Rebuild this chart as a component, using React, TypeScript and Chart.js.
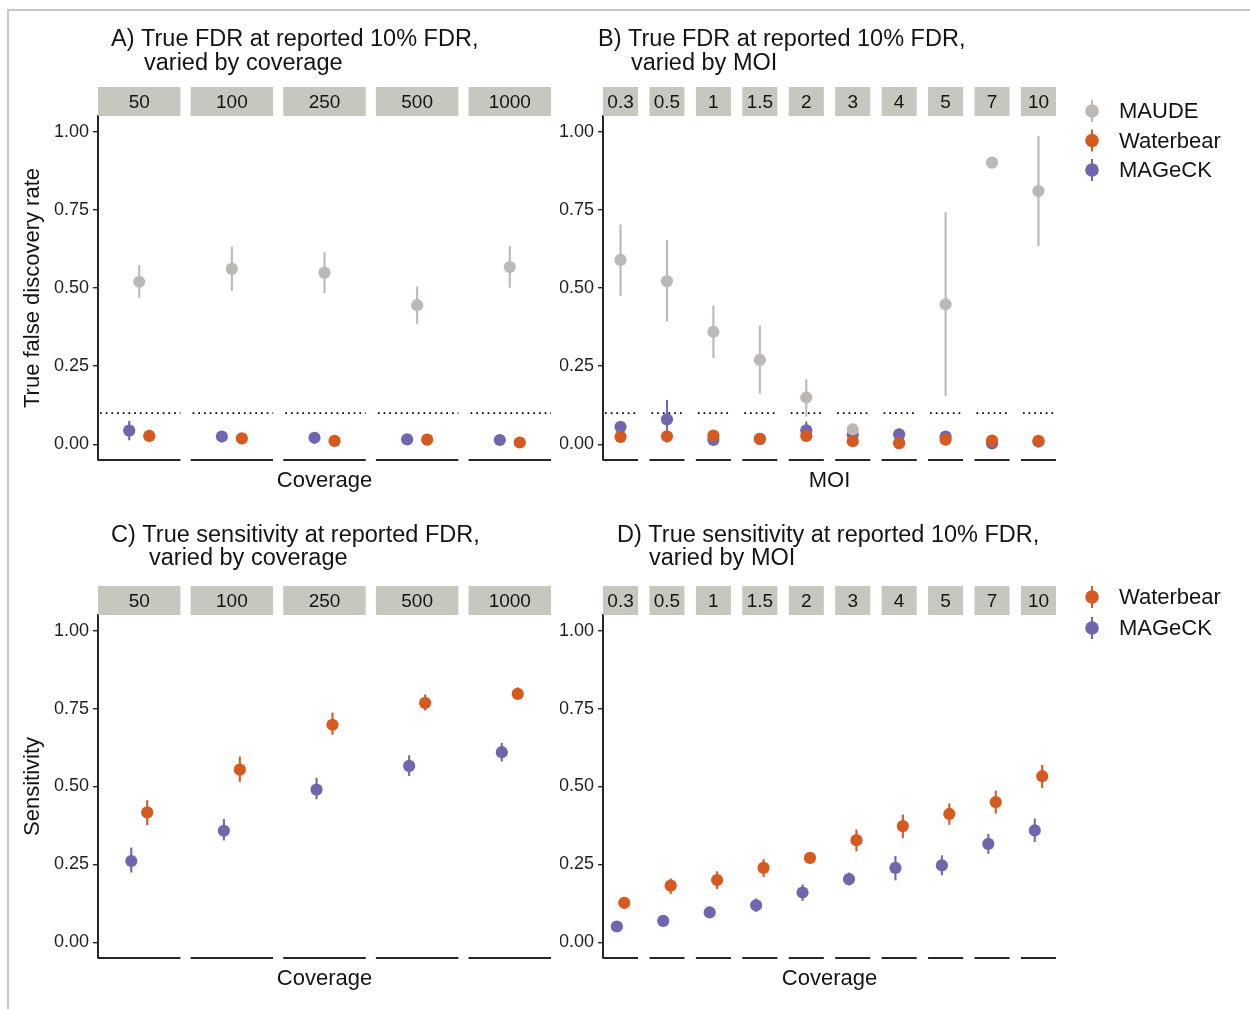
import React, { useEffect, useRef } from 'react';
import { Chart, registerables } from 'chart.js';

Chart.register(...registerables);

// ---------------- data ----------------
const coverageLevels = ['50', '100', '250', '500', '1000'];
const moiLevels = ['0.3', '0.5', '1', '1.5', '2', '3', '4', '5', '7', '10'];
const yTickValues = [0, 0.25, 0.5, 0.75, 1];
const reportedFdr = 0.1;

// A) FDR by coverage
const maudeFdrCov = [0.520, 0.561, 0.549, 0.445, 0.567];
const maudeFdrCovLo = [0.469, 0.491, 0.483, 0.385, 0.501];
const maudeFdrCovHi = [0.574, 0.632, 0.614, 0.505, 0.634];
const waterFdrCov = [0.027, 0.019, 0.011, 0.015, 0.006];
const waterFdrCovLo = [0.019, 0.012, 0.005, 0.008, 0.001];
const waterFdrCovHi = [0.035, 0.026, 0.017, 0.022, 0.011];
const mageckFdrCov = [0.044, 0.025, 0.021, 0.016, 0.014];
const mageckFdrCovLo = [0.013, 0.015, 0.012, 0.008, 0.007];
const mageckFdrCovHi = [0.075, 0.035, 0.030, 0.024, 0.021];

// B) FDR by MOI
const maudeFdrMoi = [0.590, 0.522, 0.360, 0.270, 0.150, 0.048, 0.003, 0.448, 0.901, 0.810];
const maudeFdrMoiLo = [0.475, 0.393, 0.276, 0.162, 0.089, 0.029, 0.000, 0.155, 0.901, 0.634];
const maudeFdrMoiHi = [0.703, 0.653, 0.444, 0.380, 0.208, 0.067, 0.010, 0.743, 0.901, 0.986];
const waterFdrMoi = [0.024, 0.026, 0.028, 0.018, 0.027, 0.010, 0.004, 0.015, 0.012, 0.011];
const waterFdrMoiLo = [0.016, 0.006, 0.019, 0.011, 0.019, 0.004, 0.000, 0.008, 0.006, 0.005];
const waterFdrMoiHi = [0.032, 0.044, 0.037, 0.025, 0.035, 0.016, 0.009, 0.022, 0.018, 0.017];
const mageckFdrMoi = [0.056, 0.080, 0.014, 0.017, 0.045, 0.030, 0.032, 0.025, 0.003, 0.009];
const mageckFdrMoiLo = [0.045, 0.020, 0.006, 0.009, 0.020, 0.018, 0.015, 0.016, 0.000, 0.003];
const mageckFdrMoiHi = [0.067, 0.142, 0.022, 0.025, 0.073, 0.042, 0.051, 0.034, 0.008, 0.015];

// C) Sensitivity by coverage
const waterSensCov = [0.417, 0.554, 0.698, 0.768, 0.797];
const waterSensCovLo = [0.376, 0.515, 0.666, 0.744, 0.781];
const waterSensCovHi = [0.456, 0.596, 0.737, 0.795, 0.818];
const mageckSensCov = [0.261, 0.358, 0.490, 0.566, 0.610];
const mageckSensCovLo = [0.224, 0.327, 0.459, 0.534, 0.580];
const mageckSensCovHi = [0.304, 0.396, 0.528, 0.600, 0.640];

// D) Sensitivity by MOI
const waterSensMoi = [0.127, 0.182, 0.200, 0.239, 0.271, 0.328, 0.373, 0.412, 0.450, 0.533];
const waterSensMoiLo = [0.112, 0.155, 0.171, 0.210, 0.255, 0.292, 0.335, 0.377, 0.413, 0.495];
const waterSensMoiHi = [0.139, 0.205, 0.228, 0.267, 0.286, 0.362, 0.410, 0.446, 0.487, 0.569];
const mageckSensMoi = [0.051, 0.069, 0.096, 0.119, 0.160, 0.203, 0.239, 0.247, 0.316, 0.359];
const mageckSensMoiLo = [0.045, 0.062, 0.089, 0.098, 0.133, 0.183, 0.199, 0.215, 0.284, 0.322];
const mageckSensMoiHi = [0.057, 0.076, 0.103, 0.141, 0.186, 0.224, 0.277, 0.279, 0.348, 0.397];

// ---------------- style ----------------
const FONT = '"Liberation Sans", Arial, Helvetica, sans-serif';
const COLORS: Record<string, string> = {
  MAUDE: '#bcb8b5',
  Waterbear: '#d65a20',
  MAGeCK: '#7066ae',
};
const STRIP_FILL = '#c7c7bf';
const AXIS_COL = '#262626';
const TEXT_COL = '#141414';

type Series = { name: string; y: number[]; lo: number[]; hi: number[]; dodge: number };
type PanelCfg = {
  left: number; top: number; width: number; height: number;
  area: { l: number; r: number; t: number; b: number };
  facets: string[]; gapFrac: number; series: Series[]; dotted: boolean;
  title: { text: string; x: number; y: number }[];
  xTitle: string; yTitle?: string;
  legend?: { names: string[]; x: number; y: number; step: number };
};

const panels: PanelCfg[] = [
  {
    left: 0, top: 0, width: 560, height: 500,
    area: { l: 98, r: 551, t: 116, b: 460 },
    facets: coverageLevels, gapFrac: 0.11, dotted: true,
    series: [
      { name: 'Waterbear', y: waterFdrCov, lo: waterFdrCovLo, hi: waterFdrCovHi, dodge: 0.108 },
      { name: 'MAUDE', y: maudeFdrCov, lo: maudeFdrCovLo, hi: maudeFdrCovHi, dodge: 0 },
      { name: 'MAGeCK', y: mageckFdrCov, lo: mageckFdrCovLo, hi: mageckFdrCovHi, dodge: -0.108 },
    ],
    title: [
      { text: 'A) True FDR at reported 10% FDR,', x: 111, y: 40 },
      { text: 'varied by coverage', x: 144, y: 64 },
    ],
    xTitle: 'Coverage', yTitle: 'True false discovery rate',
  },
  {
    left: 560, top: 0, width: 690, height: 500,
    area: { l: 603, r: 1056, t: 116, b: 460 },
    facets: moiLevels, gapFrac: 0.245, dotted: true,
    series: [
      { name: 'Waterbear', y: waterFdrMoi, lo: waterFdrMoiLo, hi: waterFdrMoiHi, dodge: 0 },
      { name: 'MAUDE', y: maudeFdrMoi, lo: maudeFdrMoiLo, hi: maudeFdrMoiHi, dodge: 0 },
      { name: 'MAGeCK', y: mageckFdrMoi, lo: mageckFdrMoiLo, hi: mageckFdrMoiHi, dodge: 0 },
    ],
    title: [
      { text: 'B) True FDR at reported 10% FDR,', x: 598, y: 40 },
      { text: 'varied by MOI', x: 631, y: 64 },
    ],
    xTitle: 'MOI',
    legend: { names: ['MAUDE', 'Waterbear', 'MAGeCK'], x: 1092, y: 111, step: 29.5 },
  },
  {
    left: 0, top: 500, width: 560, height: 509,
    area: { l: 98, r: 551, t: 615, b: 958 },
    facets: coverageLevels, gapFrac: 0.11, dotted: false,
    series: [
      { name: 'Waterbear', y: waterSensCov, lo: waterSensCovLo, hi: waterSensCovHi, dodge: 0.086 },
      { name: 'MAGeCK', y: mageckSensCov, lo: mageckSensCovLo, hi: mageckSensCovHi, dodge: -0.086 },
    ],
    title: [
      { text: 'C) True sensitivity at reported FDR,', x: 111, y: 536 },
      { text: 'varied by coverage', x: 149, y: 559 },
    ],
    xTitle: 'Coverage', yTitle: 'Sensitivity',
  },
  {
    left: 560, top: 500, width: 690, height: 509,
    area: { l: 603, r: 1056, t: 615, b: 958 },
    facets: moiLevels, gapFrac: 0.245, dotted: false,
    series: [
      { name: 'Waterbear', y: waterSensMoi, lo: waterSensMoiLo, hi: waterSensMoiHi, dodge: 0.08 },
      { name: 'MAGeCK', y: mageckSensMoi, lo: mageckSensMoiLo, hi: mageckSensMoiHi, dodge: -0.08 },
    ],
    title: [
      { text: 'D) True sensitivity at reported 10% FDR,', x: 617, y: 536 },
      { text: 'varied by MOI', x: 649, y: 559 },
    ],
    xTitle: 'Coverage',
    legend: { names: ['Waterbear', 'MAGeCK'], x: 1092, y: 597, step: 31 },
  },
];

function Panel({ cfg }: { cfg: PanelCfg }) {
  const ref = useRef<HTMLCanvasElement | null>(null);

  useEffect(() => {
    const canvas = ref.current;
    if (!canvas) return;
    const n = cfg.facets.length;
    const hw = 0.5 - cfg.gapFrac / 2;
    const xMin = -hw;
    const xMax = n - 1 + hw;

    const plugin = {
      id: 'facetDecor',
      beforeDatasetsDraw(chart: any) {
        const ctx = chart.ctx as CanvasRenderingContext2D;
        const xs = chart.scales.x;
        const ys = chart.scales.y;
        const ca = chart.chartArea;
        ctx.save();
        for (let i = 0; i < n; i++) {
          const x0 = xs.getPixelForValue(i - hw);
          const x1 = xs.getPixelForValue(i + hw);
          // strip
          ctx.fillStyle = STRIP_FILL;
          ctx.fillRect(x0, ca.top - 29, x1 - x0, 29);
          ctx.fillStyle = TEXT_COL;
          ctx.font = `19px ${FONT}`;
          ctx.textAlign = 'center';
          ctx.textBaseline = 'middle';
          ctx.fillText(cfg.facets[i], (x0 + x1) / 2, ca.top - 13.5);
          // bottom axis segment
          ctx.strokeStyle = AXIS_COL;
          ctx.lineWidth = 2;
          ctx.beginPath();
          ctx.moveTo(x0, ca.bottom);
          ctx.lineTo(x1, ca.bottom);
          ctx.stroke();
          // dotted reference line
          if (cfg.dotted) {
            const yy = ys.getPixelForValue(reportedFdr);
            ctx.strokeStyle = '#000';
            ctx.lineWidth = 1.7;
            ctx.setLineDash([1.7, 4]);
            ctx.beginPath();
            ctx.moveTo(x0 + 2, yy);
            ctx.lineTo(x1, yy);
            ctx.stroke();
            ctx.setLineDash([]);
          }
        }
        ctx.restore();
      },
      beforeDatasetDraw(chart: any, args: any) {
        const s = cfg.series[args.index];
        if (!s) return;
        const ctx = chart.ctx as CanvasRenderingContext2D;
        const xs = chart.scales.x;
        const ys = chart.scales.y;
        ctx.save();
        ctx.strokeStyle = COLORS[s.name];
        ctx.lineWidth = 2.1;
        for (let i = 0; i < s.y.length; i++) {
          const x = xs.getPixelForValue(i + s.dodge);
          ctx.beginPath();
          ctx.moveTo(x, ys.getPixelForValue(s.lo[i]));
          ctx.lineTo(x, ys.getPixelForValue(s.hi[i]));
          ctx.stroke();
        }
        ctx.restore();
      },
      afterDraw(chart: any) {
        const ctx = chart.ctx as CanvasRenderingContext2D;
        ctx.save();
        ctx.translate(-cfg.left, -cfg.top);
        ctx.fillStyle = TEXT_COL;
        // titles
        ctx.font = `23.5px ${FONT}`;
        ctx.textAlign = 'left';
        ctx.textBaseline = 'middle';
        cfg.title.forEach((t) => ctx.fillText(t.text, t.x, t.y));
        // x title
        ctx.font = `22px ${FONT}`;
        ctx.textAlign = 'center';
        ctx.fillText(cfg.xTitle, (cfg.area.l + cfg.area.r) / 2, cfg.area.b + 21);
        // y title
        if (cfg.yTitle) {
          ctx.save();
          ctx.translate(33, (cfg.area.t + cfg.area.b) / 2);
          ctx.rotate(-Math.PI / 2);
          ctx.fillText(cfg.yTitle, 0, 0);
          ctx.restore();
        }
        // legend
        if (cfg.legend) {
          const lg = cfg.legend;
          lg.names.forEach((name, k) => {
            const cy = lg.y + k * lg.step;
            const col = COLORS[name];
            ctx.strokeStyle = col;
            ctx.fillStyle = col;
            ctx.lineWidth = 2;
            ctx.beginPath();
            ctx.moveTo(lg.x, cy - 11);
            ctx.lineTo(lg.x, cy + 11);
            ctx.stroke();
            ctx.beginPath();
            ctx.arc(lg.x, cy, 6.8, 0, Math.PI * 2);
            ctx.fill();
            ctx.fillStyle = TEXT_COL;
            ctx.font = `22px ${FONT}`;
            ctx.textAlign = 'left';
            ctx.fillText(name, lg.x + 27, cy + 1);
          });
        }
        ctx.restore();
      },
    };

    const chart = new Chart(canvas, {
      type: 'scatter',
      data: {
        datasets: cfg.series.map((s) => ({
          label: s.name,
          data: s.y.map((v, i) => ({ x: i + s.dodge, y: v })),
          backgroundColor: COLORS[s.name],
          borderColor: COLORS[s.name],
          borderWidth: 0,
          pointRadius: 6.1,
          pointHoverRadius: 6.1,
          showLine: false,
          clip: false as any,
        })),
      },
      options: {
        responsive: false,
        animation: false,
        devicePixelRatio: 1,
        events: [],
        layout: {
          padding: {
            left: 0,
            right: cfg.left + cfg.width - cfg.area.r,
            top: cfg.area.t - cfg.top,
            bottom: cfg.top + cfg.height - cfg.area.b,
          },
        },
        plugins: {
          legend: { display: false },
          tooltip: { enabled: false },
          title: { display: false },
        },
        scales: {
          x: { type: 'linear', display: false, min: xMin, max: xMax },
          y: {
            type: 'linear',
            min: -0.05,
            max: 1.05,
            afterFit: (s: any) => {
              s.width = cfg.area.l - cfg.left;
            },
            afterBuildTicks: (s: any) => {
              s.ticks = yTickValues.map((v) => ({ value: v }));
            },
            ticks: {
              callback: (v: any) => Number(v).toFixed(2),
              font: { family: FONT, size: 18 },
              color: '#1e1e1e',
              padding: 4,
            },
            grid: {
              display: true,
              drawOnChartArea: false,
              drawTicks: true,
              tickLength: 5,
              color: AXIS_COL,
              lineWidth: 1.4,
            },
            border: { display: true, color: AXIS_COL, width: 2 },
          },
        },
      } as any,
      plugins: [plugin],
    });
    return () => chart.destroy();
  }, [cfg]);

  return (
    <canvas
      ref={ref}
      width={cfg.width}
      height={cfg.height}
      style={{ position: 'absolute', left: cfg.left, top: cfg.top, width: cfg.width, height: cfg.height }}
    />
  );
}

export default function App() {
  return (
    <div
      style={{
        position: 'fixed',
        left: 0,
        top: 0,
        width: 1250,
        height: 1009,
        background: '#fff',
        overflow: 'hidden',
      }}
    >
      <div
        style={{
          position: 'absolute',
          left: 7,
          top: 9,
          width: 1260,
          height: 1020,
          borderTop: '2px solid #c8c8c8',
          borderLeft: '2px solid #c8c8c8',
        }}
      />
      {panels.map((p, i) => (
        <Panel key={i} cfg={p} />
      ))}
    </div>
  );
}
